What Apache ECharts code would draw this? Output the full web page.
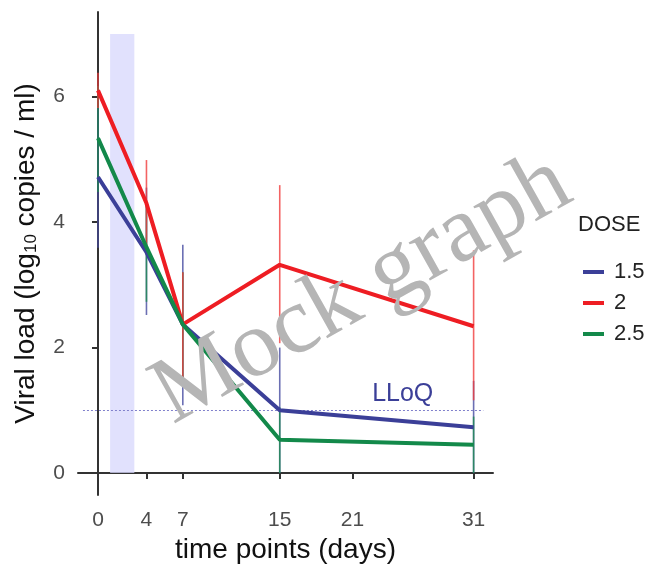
<!DOCTYPE html>
<html>
<head>
<meta charset="utf-8">
<script src="https://cdn.jsdelivr.net/npm/echarts@6/dist/echarts.min.js"></script>
<style>
  html, body { margin: 0; padding: 0; background: #ffffff; }
  #chart { width: 669px; height: 570px; }
</style>
</head>
<body>
<div id="chart"></div>
<script>
// Sampling days and tick labels
const days = [0, 4, 7, 15, 21, 31];
const sampleDays = [0, 4, 7, 15, 31];
const yTicks = [0, 2, 4, 6];
const doses = ['1.5', '2', '2.5'];

// Mean viral load (log10 copies/ml) per dose
const mean15 = [4.72, 3.52, 2.37, 1.0, 0.73];
const mean20 = [6.1, 4.3, 2.37, 3.32, 2.34];
const mean25 = [5.34, 3.6, 2.37, 0.53, 0.45];

// Error bar ranges [low, high] per dose
const low15 = [3.59, 2.52, 1.08, 0.0, 0.0];
const high15 = [5.83, 4.55, 3.64, 2.0, 1.47];
const low20 = [5.82, 3.6, 1.43, 2.07, 1.16];
const high20 = [6.38, 4.99, 3.2, 4.59, 3.55];
const low25 = [4.48, 2.73, 1.45, 0.0, 0.0];
const high25 = [6.17, 4.32, 3.2, 1.05, 0.9];

// Dosing window and limit of quantification
const doseWindow = [1, 3];
const doseWindowTop = 7;
const lloq = 1;

const colors = { '1.5': '#3b3f98', '2': '#ee1d23', '2.5': '#13894a' };
const barColors = { '1.5': 'rgba(70,75,160,0.8)', '2': 'rgba(240,60,60,0.8)', '2.5': 'rgba(30,140,80,0.8)' };

function pairs(xs, ys) { return xs.map((x, i) => [x, ys[i]]); }
function bars(lo, hi) { return sampleDays.map((d, i) => [d, lo[i], hi[i]]); }

function errorBarSeries(dose, lo, hi) {
  return {
    type: 'custom',
    name: dose + ' range',
    silent: true,
    z: 2,
    data: bars(lo, hi),
    renderItem: function (params, api) {
      const a = api.coord([api.value(0), api.value(1)]);
      const b = api.coord([api.value(0), api.value(2)]);
      return {
        type: 'line',
        shape: { x1: a[0], y1: a[1], x2: b[0], y2: b[1] },
        style: { stroke: barColors[dose], lineWidth: 1.6 }
      };
    }
  };
}

function lineSeries(dose, values, z) {
  return {
    type: 'line',
    name: dose,
    color: colors[dose],
    data: pairs(sampleDays, values),
    showSymbol: false,
    symbol: 'circle',
    lineStyle: { color: colors[dose], width: 4 },
    itemStyle: { color: colors[dose] },
    z: z
  };
}

const chart = echarts.init(document.getElementById('chart'));
const axisTextColor = '#4d4d4d';
const font = 'Liberation Sans, Arial, sans-serif';

chart.setOption({
  animation: false,
  grid: { left: 78, top: 12, right: 176, bottom: 75, containLabel: false },
  xAxis: {
    type: 'value',
    min: -1.65,
    max: 32.6,
    splitLine: { show: false },
    axisLine: { lineStyle: { color: '#333333', width: 2 } },
    axisTick: { customValues: days, length: 6, lineStyle: { color: '#333333', width: 2 } },
    axisLabel: { customValues: days, color: axisTextColor, fontSize: 21, fontFamily: font, margin: 15 },
    name: 'time points (days)',
    nameLocation: 'middle',
    nameGap: 41,
    nameTextStyle: { color: '#111111', fontSize: 28, fontFamily: font }
  },
  yAxis: {
    type: 'value',
    min: -0.35,
    max: 7.35,
    splitLine: { show: false },
    axisLine: { show: true, lineStyle: { color: '#333333', width: 2 } },
    axisTick: { show: true, customValues: yTicks, length: 6, lineStyle: { color: '#333333', width: 2 } },
    axisLabel: { customValues: yTicks, color: axisTextColor, fontSize: 21, fontFamily: font, margin: 13 },
    name: '{a|Viral load (log}{s|10}{a| copies / ml)}',
    nameLocation: 'middle',
    nameGap: 38,
    nameTextStyle: {
      color: '#111111',
      fontFamily: font,
      rich: {
        a: { fontSize: 28, color: '#111111', fontFamily: font },
        s: { fontSize: 17, color: '#111111', fontFamily: font, padding: [10, 0, 0, 0] }
      }
    }
  },
  legend: {
    orient: 'vertical',
    left: 578,
    top: 256,
    itemWidth: 21,
    itemHeight: 4,
    itemGap: 9,
    icon: 'rect',
    data: doses,
    textStyle: { fontSize: 22, color: '#222222', fontFamily: font, padding: [0, 0, 0, 5] }
  },
  graphic: [
    {
      type: 'text',
      left: 578,
      top: 214,
      style: { text: 'DOSE', fontSize: 22, fontFamily: font, fill: '#222222' }
    },
    {
      type: 'text',
      x: 362,
      y: 290,
      rotation: 0.51,
      z: 100,
      style: {
        text: 'Mock graph',
        fontSize: 95,
        fontFamily: 'Liberation Serif, Times New Roman, serif',
        fill: '#b5b5b5',
        align: 'center',
        verticalAlign: 'middle'
      }
    }
  ],
  series: [
    {
      type: 'line',
      name: 'window',
      data: [],
      silent: true,
      z: 1,
      markArea: {
        silent: true,
        itemStyle: { color: 'rgba(215,215,252,0.75)' },
        data: [[{ xAxis: doseWindow[0], yAxis: 0 }, { xAxis: doseWindow[1], yAxis: doseWindowTop }]]
      },
      markLine: {
        silent: true,
        symbol: 'none',
        lineStyle: { color: '#8080cc', type: [2, 2], width: 1 },
        label: {
          show: true,
          position: 'insideEndTop',
          formatter: 'LLoQ',
          color: '#3b3f98',
          fontSize: 25,
          fontFamily: font,
          distance: [50, 4]
        },
        data: [[{ coord: [-1.24, lloq] }, { coord: [31.8, lloq] }]]
      }
    },
    errorBarSeries('1.5', low15, high15),
    errorBarSeries('2.5', low25, high25),
    errorBarSeries('2', low20, high20),
    lineSeries('1.5', mean15, 5),
    lineSeries('2', mean20, 6),
    lineSeries('2.5', mean25, 7)
  ]
});
</script>
</body>
</html>
